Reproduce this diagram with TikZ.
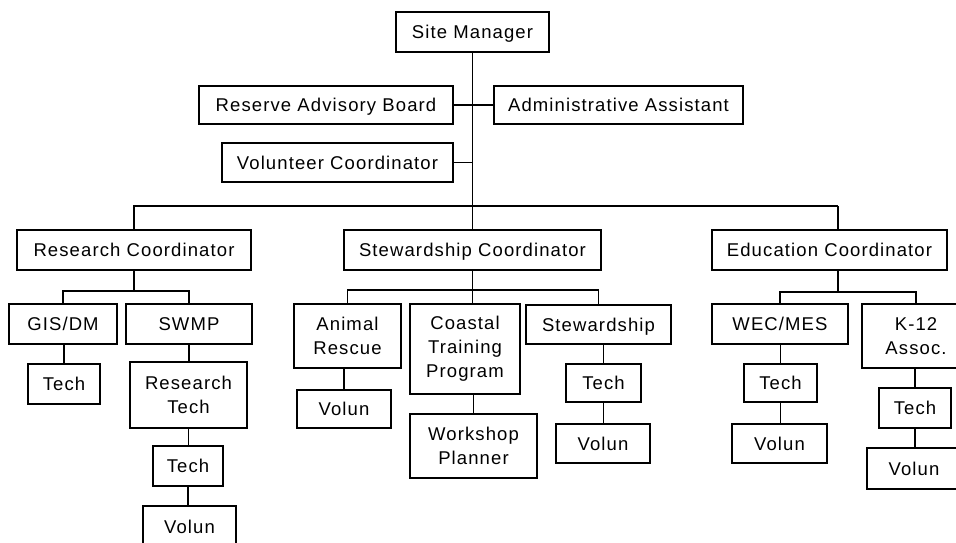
\documentclass[tikz,border=0pt]{standalone}
\usepackage{fontspec}
\setmainfont{Liberation Sans}[LetterSpace=6]
\tikzset{
  box/.style={draw, line width=1.2pt, inner sep=0pt, align=center,
    font=\fontsize{18.5}{24}\selectfont},
  sl/.style={box, text height=13.3pt, text depth=0pt},
  conn/.style={line width=1.2pt}
}
\begin{document}
\begin{tikzpicture}[x=1pt,y=-1pt]
\useasboundingbox (0,0) rectangle (956,543);
\clip (0,0) rectangle (956,543);
% top level
\node[sl, minimum width=153pt, minimum height=40pt] (sm) at (472.5,32) {Site Manager};
\node[sl, minimum width=254pt, minimum height=38pt] (rab) at (326,105) {Reserve Advisory Board};
\node[sl, minimum width=249pt, minimum height=38pt] (adm) at (618.5,105) {Administrative Assistant};
\node[sl, minimum width=231pt, minimum height=39pt] (vol) at (337.5,162.5) {Volunteer Coordinator};
\node[sl, minimum width=234pt, minimum height=40pt] (rc) at (134,250) {Research Coordinator};
\node[sl, minimum width=257pt, minimum height=40pt] (sc) at (472.5,250) {Stewardship Coordinator};
\node[sl, minimum width=235pt, minimum height=40pt] (ec) at (829.5,250) {Education Coordinator};
% research
\node[sl, minimum width=108pt, minimum height=40pt] (gis) at (63,324) {GIS/DM};
\node[sl, minimum width=126pt, minimum height=40pt] (swmp) at (189,324) {SWMP};
\node[sl, minimum width=72pt, minimum height=40pt] (gtech) at (64,384) {Tech};
\node[box, minimum width=117pt, minimum height=66pt] (rtech) at (188.5,395) {Research\\Tech};
\node[sl, minimum width=70pt, minimum height=40pt] (rtech2) at (188,466) {Tech};
\node[sl, minimum width=93pt, minimum height=42pt] (rvol) at (189.5,527) {Volun};
% stewardship
\node[box, minimum width=107pt, minimum height=64pt] (ar) at (347.5,336) {Animal\\Rescue};
\node[box, minimum width=110pt, minimum height=90pt] (ctp) at (465,349) {Coastal\\Training\\Program};
\node[sl, minimum width=145pt, minimum height=39pt] (st) at (598.5,324.5) {Stewardship};
\node[sl, minimum width=94pt, minimum height=38pt] (arvol) at (344,409) {Volun};
\node[box, minimum width=127pt, minimum height=64pt] (wp) at (473.5,446) {Workshop\\Planner};
\node[sl, minimum width=75pt, minimum height=38pt] (sttech) at (603.5,383) {Tech};
\node[sl, minimum width=94pt, minimum height=39pt] (stvol) at (603,443.5) {Volun};
% education
\node[sl, minimum width=136pt, minimum height=40pt] (wec) at (780,324) {WEC/MES};
\node[box, minimum width=108pt, minimum height=64pt] (k12) at (916,336) {K-12\\Assoc.};
\node[sl, minimum width=73pt, minimum height=38pt] (wtech) at (780.5,383) {Tech};
\node[sl, minimum width=95pt, minimum height=39pt] (wvol) at (779.5,443.5) {Volun};
\node[sl, minimum width=72pt, minimum height=40pt] (ktech) at (915,408) {Tech};
\node[sl, minimum width=94pt, minimum height=41pt] (kvol) at (914,468.5) {Volun};
% helper coordinates
\coordinate (bus) at (472.5,206);
\coordinate (edrop) at (838,206);
\coordinate (rsub) at (134,291);
\coordinate (ssub) at (472.5,290);
\coordinate (esub) at (838,292);
% connectors
\draw[conn] (sm.south) -- (sc.north);
\draw[conn] (rab.east) -- (adm.west);
\draw[conn] (vol.east) -- (vol.east -| sm.south);
\draw[conn] (rc.north) |- (bus) -| (edrop);
\draw[conn] (edrop) -- (edrop |- ec.north);
\draw[conn] (rc.south) -- (rsub);
\draw[conn] (gis.north) |- (rsub) -| (swmp.north);
\draw[conn] (gis.south -| gtech.north) -- (gtech.north);
\draw[conn] (swmp.south) -- (swmp.south |- rtech.north);
\draw[conn] (rtech.south) -- (rtech.south |- rtech2.north);
\draw[conn] (rtech2.south) -- (rtech2.south |- rvol.north);
\draw[conn] (sc.south) -- (sc.south |- ctp.north);
\draw[conn] (ar.north) |- (ssub) -| (st.north);
\draw[conn] (ar.south -| arvol.north) -- (arvol.north);
\draw[conn] (ctp.south -| wp.north) -- (wp.north);
\draw[conn] (st.south -| sttech.north) -- (sttech.north);
\draw[conn] (sttech.south) -- (sttech.south |- stvol.north);
\draw[conn] (edrop |- ec.south) -- (esub);
\draw[conn] (wec.north) |- (esub) -| (k12.north);
\draw[conn] (wec.south -| wtech.north) -- (wtech.north);
\draw[conn] (wtech.south) -- (wtech.south |- wvol.north);
\draw[conn] (k12.south -| ktech.north) -- (ktech.north);
\draw[conn] (ktech.south) -- (ktech.south |- kvol.north);
\end{tikzpicture}
\end{document}
